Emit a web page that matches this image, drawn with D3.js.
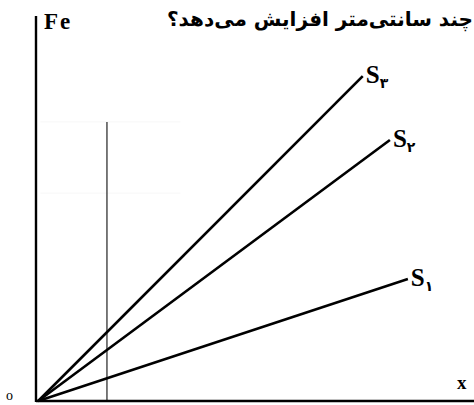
<!DOCTYPE html>
<html>
<head>
<meta charset="utf-8">
<script src="https://cdn.jsdelivr.net/npm/d3@7"></script>
<style>
  body { margin: 0; background: #fff; }
  svg { display: block; }
</style>
</head>
<body>
<div id="chart"></div>
<script>
const width = 474,
    height = 405;

// lines through the origin: name, subscript, end point (x, Fe)
const seriesNames = ["S1", "S2", "S3"];
const seriesSub = ["۱", "۲", "۳"];
const seriesEndX = [84.9, 80.8, 74.6];
const seriesEndY = [31.7, 67.8, 84.4];

// thin vertical marker line
const markerX = 16.2;
const markerTop = 72.5;

const title = "چند سانتی‌متر افزایش می‌دهد؟";

const x = d3.scaleLinear()
    .domain([0, 100])
    .range([36, 474]);

const y = d3.scaleLinear()
    .domain([0, 100])
    .range([401, 16]);

const svg = d3.select("#chart").append("svg")
    .attr("width", width)
    .attr("height", height);

// faint scan remnants of a grid
svg.selectAll("line.faint")
    .data([72.5, 54])
  .enter().append("line")
    .attr("class", "faint")
    .attr("x1", x(1)).attr("x2", x(33))
    .attr("y1", d => y(d)).attr("y2", d => y(d))
    .attr("stroke", "#f7f7f7")
    .attr("stroke-width", 1);

// marker line
svg.append("line")
    .attr("x1", x(markerX)).attr("x2", x(markerX))
    .attr("y1", y(markerTop)).attr("y2", y(0))
    .attr("stroke", "#222")
    .attr("stroke-width", 1.2);

// series lines
svg.selectAll("line.series")
    .data(seriesNames)
  .enter().append("line")
    .attr("class", "series")
    .attr("x1", x(0.5)).attr("y1", y(0))
    .attr("x2", (d, i) => x(seriesEndX[i]))
    .attr("y2", (d, i) => y(seriesEndY[i]))
    .attr("stroke", "#000")
    .attr("stroke-width", 2.6);

// series labels
const labels = svg.selectAll("text.slabel")
    .data(seriesNames)
  .enter().append("text")
    .attr("class", "slabel")
    .attr("x", (d, i) => x(seriesEndX[i]) + 3)
    .attr("y", (d, i) => y(seriesEndY[i]) + 7)
    .attr("font-family", "'Liberation Serif', 'DejaVu Serif', serif")
    .attr("font-weight", "bold")
    .attr("font-size", 25);
labels.append("tspan").text("S");
labels.append("tspan")
    .attr("font-family", "'DejaVu Sans', sans-serif")
    .attr("font-size", 14)
    .attr("dy", 5)
    .text((d, i) => seriesSub[i]);

// axes
svg.append("line")
    .attr("x1", x(0)).attr("x2", x(0))
    .attr("y1", y(100)).attr("y2", y(0) + 1)
    .attr("stroke", "#000")
    .attr("stroke-width", 2.4);
svg.append("line")
    .attr("x1", x(0)).attr("x2", x(100))
    .attr("y1", y(0)).attr("y2", y(0))
    .attr("stroke", "#000")
    .attr("stroke-width", 2.4);

// axis labels
svg.append("text")
    .attr("x", 44).attr("y", 29)
    .attr("font-family", "'Liberation Serif', serif")
    .attr("font-weight", "bold")
    .attr("font-size", 23)
    .attr("letter-spacing", 2)
    .text("Fe");

svg.append("text")
    .attr("x", 457).attr("y", 389)
    .attr("font-family", "'Liberation Serif', serif")
    .attr("font-weight", "bold")
    .attr("font-size", 19)
    .text("x");

svg.append("text")
    .attr("x", 6).attr("y", 400)
    .attr("font-family", "'Liberation Serif', serif")
    .attr("font-size", 14)
    .text("o");

// question text along the top edge
svg.append("text")
    .attr("x", 473).attr("y", 26)
    .attr("text-anchor", "end")
    .attr("font-family", "'DejaVu Sans', sans-serif")
    .attr("font-weight", "bold")
    .attr("font-size", 20)
    .text(title);
</script>
</body>
</html>
